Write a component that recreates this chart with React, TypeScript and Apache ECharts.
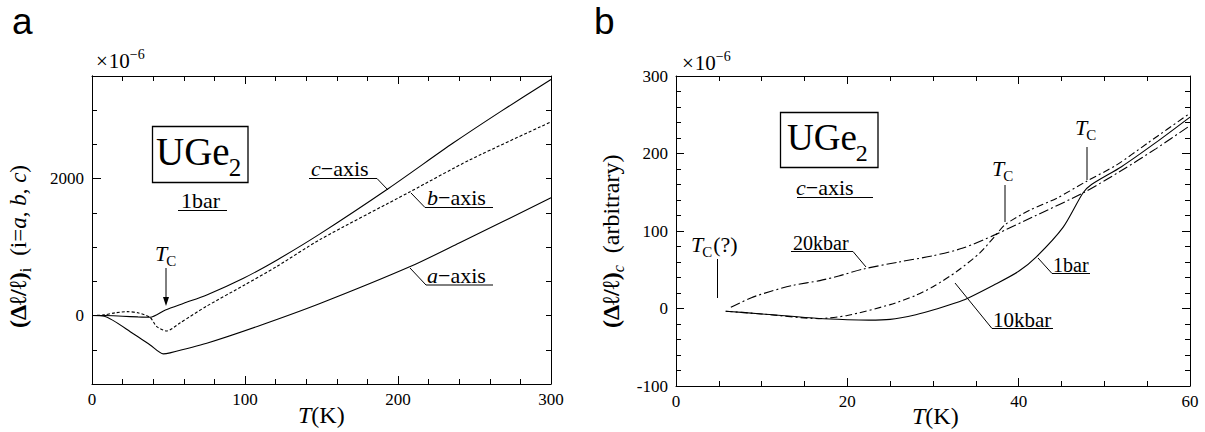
import React, { useEffect, useRef } from 'react';
import * as echarts from 'echarts';

// ---------- Panel a : UGe2, 1 bar, thermal expansion along a, b, c ----------
const aAxisT = [0, 8, 27, 38, 46.6, 51, 75, 108, 149, 208, 240, 300];
const aAxisV = [0, -10, -265, -430, -560, -545, -405, -160, 175, 715, 1060, 1720];

const bAxisT = [0, 8, 15, 23, 30, 37.9, 42.3, 48.8, 57.5, 75, 100, 121, 149, 208, 247, 300];
const bAxisV = [0, 10, 40, 57, 40, -25, -162, -225, -108, 138, 450, 720, 1110, 1810, 2275, 2830];

const cAxisT = [0, 8, 20, 30, 38, 48, 60, 75, 99, 121, 149, 194, 236, 267, 300];
const cAxisV = [0, 0, -10, -20, -25, 82, 180, 301, 545, 813, 1193, 1860, 2520, 2980, 3450];

const leftXTicks = [0, 100, 200, 300];
const leftYTickLabels = [0, 2000];

// ---------- Panel b : c-axis under pressure ----------
const p1barT = [5.8, 10, 16.7, 20, 22.5, 25, 28, 30, 33.5, 37.4, 40, 42.1, 45.2, 47.5, 48.5, 52, 56, 60];
const p1barV = [-3.5, -7, -13, -14.5, -15, -14, -8, -2, 10.5, 32, 48, 67, 105, 149, 160, 183, 214, 247];

const p10kbarT = [5.8, 10, 16.7, 20, 25, 28, 30, 32.8, 35.5, 37.2, 38.4, 41.3, 44.4, 47.9, 51.4, 55, 60];
const p10kbarV = [-3.5, -7, -13, -9, 5, 17, 28, 48, 72, 93, 108, 127, 142, 164, 185, 213, 252];

const p20kbarT = [6.4, 8.8, 11, 13.7, 16.8, 19, 21.9, 26, 30, 33.5, 37.2, 42, 47.5, 52, 56, 60];
const p20kbarV = [1.5, 14, 22, 30, 36, 42, 51, 60, 68, 78, 95, 120, 149, 178, 206, 236];

const rightXTicks = [0, 20, 40, 60];
const rightYTicks = [-100, 0, 100, 200, 300];

const SERIF = '"Liberation Serif", "Times New Roman", serif';
const SANS = '"Liberation Sans", Arial, sans-serif';

type Run = { t: string; size: number; italic?: boolean; bold?: boolean; dy?: number; dx?: number; family?: string };

let measureCtx: CanvasRenderingContext2D | null = null;
function fontStr(r: Run) {
  return `${r.italic ? 'italic ' : ''}${r.bold ? 'bold ' : ''}${r.size}px ${r.family ?? SERIF}`;
}
function textWidth(r: Run) {
  if (!measureCtx) measureCtx = document.createElement('canvas').getContext('2d');
  measureCtx!.font = fontStr(r);
  return measureCtx!.measureText(r.t).width;
}
// x, y = start of the alphabetic baseline
function textRuns(x: number, y: number, parts: Run[], rotation = 0) {
  let off = 0;
  const children = parts.map((p) => {
    off += p.dx ?? 0;
    const el = {
      type: 'text',
      x: off,
      y: (p.dy ?? 0) - 0.34 * p.size,
      style: {
        text: p.t,
        fontSize: p.size,
        fontFamily: p.family ?? SERIF,
        fontStyle: p.italic ? 'italic' : 'normal',
        fontWeight: p.bold ? 'bold' : 'normal',
        fill: '#000',
        align: 'left',
        verticalAlign: 'middle',
        textAlign: 'left',
        textVerticalAlign: 'middle',
      },
    };
    off += textWidth(p);
    return el;
  });
  return { type: 'group', x, y, rotation, children };
}
function pl(points: number[][], w = 1) {
  return { type: 'polyline', shape: { points }, style: { stroke: '#000', lineWidth: w, fill: 'none' } };
}
function tc(x: number, y: number, extra: Run[] = []) {
  return textRuns(x, y, [
    { t: 'T', size: 22, italic: true },
    { t: 'C', size: 15, dy: 5, dx: -1 },
    ...extra,
  ]);
}

const zip = (xs: number[], ys: number[]) => xs.map((x, i) => [x, ys[i]]);

const BLACK = '#000';
const tickLabel = { color: BLACK, fontFamily: SERIF, fontSize: 17, formatter: (v: number) => String(v) };

function valueAxis(extra: any) {
  return {
    type: 'value',
    axisLine: { show: true, onZero: false, lineStyle: { color: BLACK, width: 1 } },
    splitLine: { show: false },
    axisTick: { show: true, inside: true, length: 8, lineStyle: { color: BLACK, width: 1 } },
    minorTick: { show: false },
    axisLabel: { show: false, ...tickLabel },
    ...extra,
  };
}

export default function App() {
  const ref = useRef<HTMLDivElement>(null);
  useEffect(() => {
    document.body.style.margin = '0';
    const chart = echarts.init(ref.current!, undefined, { renderer: 'svg' });

    const lineSeries = (xi: number, yi: number, xs: number[], ys: number[], type: any, name: string) => ({
      name,
      type: 'line',
      xAxisIndex: xi,
      yAxisIndex: yi,
      data: zip(xs, ys),
      showSymbol: false,
      symbol: 'none',
      smooth: 0.25,
      silent: true,
      lineStyle: { color: BLACK, width: 1.1, type },
    });

    const graphic: any[] = [
      // panel letters
      textRuns(12, 34, [{ t: 'a', size: 37, family: SANS }]),
      textRuns(594, 34, [{ t: 'b', size: 37, family: SANS }]),
      // ---- panel a ----
      textRuns(96, 68, [{ t: '×', size: 21 }, { t: '10', size: 21, dx: 1 }, { t: '−6', size: 14, dy: -9 }]),
      { type: 'rect', shape: { x: 152.5, y: 126.5, width: 95.5, height: 56 }, style: { fill: 'none', stroke: BLACK, lineWidth: 1.3 } },
      textRuns(156, 165, [{ t: 'UGe', size: 39 }, { t: '2', size: 25, dy: 11, dx: -1 }]),
      textRuns(181, 208, [{ t: '1bar', size: 22 }]),
      pl([[178, 210.5], [227, 210.5]]),
      tc(155, 260.7),
      pl([[166, 268], [166, 300]]),
      { type: 'polygon', shape: { points: [[163, 297], [169, 297], [166, 306]] }, style: { fill: BLACK } },
      textRuns(311, 176, [{ t: 'c', size: 22, italic: true }, { t: '−axis', size: 22 }]),
      pl([[309, 178.5], [377, 178.5], [388, 190]]),
      textRuns(427, 205, [{ t: 'b', size: 22, italic: true }, { t: '−axis', size: 22 }]),
      pl([[411, 193], [425, 207.5], [493, 207.5]]),
      textRuns(427, 282.5, [{ t: 'a', size: 22, italic: true }, { t: '−axis', size: 22 }]),
      pl([[410, 268], [426, 285], [493, 285]]),
      textRuns(298, 423, [{ t: 'T', size: 24, italic: true }, { t: '(K)', size: 24 }]),
      textRuns(26, 328, [
        { t: '(Δℓ/ℓ)', size: 24, bold: true },
        { t: 'i', size: 16, dy: 5 },
        { t: '(i=', size: 23, dx: 12 },
        { t: 'a', size: 23, italic: true },
        { t: ', ', size: 23 },
        { t: 'b', size: 23, italic: true },
        { t: ', ', size: 23 },
        { t: 'c', size: 23, italic: true },
        { t: ')', size: 23 },
      ], Math.PI / 2),
      // ---- panel b ----
      textRuns(682, 70, [{ t: '×', size: 21 }, { t: '10', size: 21, dx: 1 }, { t: '−6', size: 14, dy: -9 }]),
      { type: 'rect', shape: { x: 780.5, y: 112.5, width: 97.5, height: 55 }, style: { fill: 'none', stroke: BLACK, lineWidth: 1.3 } },
      textRuns(787, 150, [{ t: 'UGe', size: 37 }, { t: '2', size: 24, dy: 11, dx: -1 }]),
      textRuns(796, 195, [{ t: 'c', size: 22, italic: true }, { t: '−axis', size: 22 }]),
      pl([[797, 197.5], [873, 197.5]]),
      tc(691, 251.7, [{ t: '(?)', size: 22, dx: 1 }]),
      pl([[717.5, 259], [717.5, 298]]),
      textRuns(793, 250, [{ t: '20kbar', size: 20 }]),
      pl([[791, 251.5], [853, 251.5], [866, 267]]),
      tc(992, 176),
      pl([[1005, 185], [1005, 222]]),
      tc(1075, 135),
      pl([[1087, 147], [1087, 180]]),
      textRuns(1053, 272, [{ t: '1bar', size: 20 }]),
      pl([[1038, 258], [1052, 273.5], [1090, 273.5]]),
      textRuns(993, 327, [{ t: '10kbar', size: 21 }]),
      pl([[955, 283], [992, 328.5], [1053, 328.5]]),
      textRuns(912, 424, [{ t: 'T', size: 24, italic: true }, { t: '(K)', size: 24 }]),
      textRuns(619, 328, [
        { t: '(Δℓ/ℓ)', size: 24, bold: true },
        { t: 'c', size: 16, italic: true, dy: 5 },
        { t: '(arbitrary)', size: 24, dx: 12 },
      ], Math.PI / 2),
    ];

    chart.setOption({
      animation: false,
      backgroundColor: '#fff',
      grid: [
        { left: 92, top: 76, width: 459, height: 308, outerBoundsMode: 'none' },
        { left: 676, top: 76, width: 514, height: 310, outerBoundsMode: 'none' },
      ],
      xAxis: [
        valueAxis({
          gridIndex: 0, position: 'bottom', min: leftXTicks[0], max: leftXTicks[leftXTicks.length - 1], interval: 100,
          minorTick: { show: true, splitNumber: 5, length: 5, lineStyle: { color: BLACK } },
          axisLabel: { show: true, ...tickLabel, margin: 7 },
        }),
        valueAxis({
          gridIndex: 0, position: 'top', min: leftXTicks[0], max: leftXTicks[leftXTicks.length - 1], interval: 100,
          minorTick: { show: true, splitNumber: 5, length: 5, lineStyle: { color: BLACK } },
        }),
        valueAxis({
          gridIndex: 1, position: 'bottom', min: rightXTicks[0], max: rightXTicks[rightXTicks.length - 1], interval: 20,
          minorTick: { show: true, splitNumber: 4, length: 5, lineStyle: { color: BLACK } },
          axisLabel: { show: true, ...tickLabel, margin: 7 },
        }),
        valueAxis({
          gridIndex: 1, position: 'top', min: rightXTicks[0], max: rightXTicks[rightXTicks.length - 1], interval: 20,
          minorTick: { show: true, splitNumber: 4, length: 5, lineStyle: { color: BLACK } },
        }),
      ],
      yAxis: [
        valueAxis({
          gridIndex: 0, position: 'left', min: -1000, max: 3500, interval: 500,
          axisTick: { show: true, inside: true, length: 5, lineStyle: { color: BLACK } },
        }),
        valueAxis({
          gridIndex: 0, position: 'left', min: -1000, max: 3500, interval: 500,
          axisTick: { show: true, inside: true, length: 9, customValues: leftYTickLabels, lineStyle: { color: BLACK } },
          axisLabel: { show: true, ...tickLabel, margin: 8, customValues: leftYTickLabels },
        }),
        valueAxis({
          gridIndex: 0, position: 'right', min: -1000, max: 3500, interval: 500,
          axisTick: { show: true, inside: true, length: 5, lineStyle: { color: BLACK } },
        }),
        valueAxis({
          gridIndex: 1, position: 'left', min: rightYTicks[0], max: rightYTicks[rightYTicks.length - 1], interval: 100,
          minorTick: { show: true, splitNumber: 5, length: 5, lineStyle: { color: BLACK } },
          axisLabel: { show: true, ...tickLabel, margin: 8 },
        }),
        valueAxis({
          gridIndex: 1, position: 'right', min: rightYTicks[0], max: rightYTicks[rightYTicks.length - 1], interval: 100,
          minorTick: { show: true, splitNumber: 5, length: 5, lineStyle: { color: BLACK } },
        }),
      ],
      series: [
        lineSeries(0, 0, cAxisT, cAxisV, 'solid', 'c-axis'),
        lineSeries(0, 0, bAxisT, bAxisV, [3, 2], 'b-axis'),
        lineSeries(0, 0, aAxisT, aAxisV, 'solid', 'a-axis'),
        lineSeries(2, 3, p1barT, p1barV, 'solid', '1bar'),
        lineSeries(2, 3, p10kbarT, p10kbarV, [7, 3, 2, 3], '10kbar'),
        lineSeries(2, 3, p20kbarT, p20kbarV, [10, 3, 2, 3], '20kbar'),
      ],
      graphic,
    });
    return () => chart.dispose();
  }, []);
  return <div ref={ref} style={{ position: 'absolute', left: 0, top: 0, width: 1205, height: 432, background: '#fff' }} />;
}
